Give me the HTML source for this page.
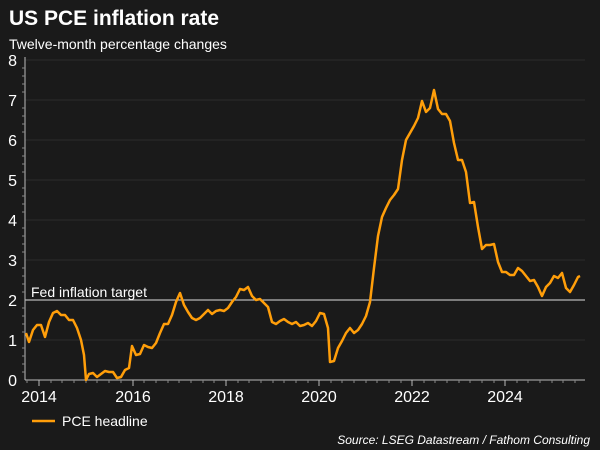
<!DOCTYPE html><html><head><style>body{margin:0;background:#1a1a1a}svg{display:block}</style></head><body>
<svg width="600" height="450" xmlns="http://www.w3.org/2000/svg" font-family="Liberation Sans, sans-serif">
<rect width="600" height="450" fill="#1a1a1a"/>
<text x="9" y="25" fill="#fff" font-size="21" font-weight="bold">US PCE inflation rate</text>
<text x="9" y="49" fill="#fff" font-size="14">Twelve-month percentage changes</text>
<g stroke="#2c2c2c" stroke-width="1">
<line x1="25" x2="585" y1="60" y2="60"/><line x1="25" x2="585" y1="100" y2="100"/><line x1="25" x2="585" y1="140" y2="140"/><line x1="25" x2="585" y1="180" y2="180"/><line x1="25" x2="585" y1="220" y2="220"/><line x1="25" x2="585" y1="260" y2="260"/><line x1="25" x2="585" y1="340" y2="340"/>
</g>
<line x1="25" x2="585" y1="300" y2="300" stroke="#ddd" stroke-width="1"/>
<line x1="25" x2="25" y1="57" y2="380" stroke="#bbb"/>
<line x1="25" x2="585" y1="380" y2="380" stroke="#bbb"/>
<g stroke="#888" stroke-width="1">
<path d="M25 68h-3M25 76h-3M25 84h-3M25 92h-3M25 108h-3M25 116h-3M25 124h-3M25 132h-3M25 148h-3M25 156h-3M25 164h-3M25 172h-3M25 188h-3M25 196h-3M25 204h-3M25 212h-3M25 228h-3M25 236h-3M25 244h-3M25 252h-3M25 268h-3M25 276h-3M25 284h-3M25 292h-3M25 308h-3M25 316h-3M25 324h-3M25 332h-3M25 348h-3M25 356h-3M25 364h-3M25 372h-3"/>
<path d="M27 380v3M51 380v3M62 380v3M74 380v3M86 380v3M97 380v3M109 380v3M121 380v3M144 380v3M156 380v3M168 380v3M179 380v3M191 380v3M203 380v3M214 380v3M238 380v3M249 380v3M261 380v3M273 380v3M284 380v3M296 380v3M308 380v3M331 380v3M342 380v3M354 380v3M366 380v3M377 380v3M389 380v3M401 380v3M424 380v3M435 380v3M447 380v3M459 380v3M470 380v3M482 380v3M494 380v3M517 380v3M528 380v3M540 380v3M552 380v3M563 380v3M575 380v3"/>
</g>
<g stroke="#bbb"><line x1="39" x2="39" y1="380" y2="386"/><line x1="133" x2="133" y1="380" y2="386"/><line x1="226" x2="226" y1="380" y2="386"/><line x1="319" x2="319" y1="380" y2="386"/><line x1="412" x2="412" y1="380" y2="386"/><line x1="505" x2="505" y1="380" y2="386"/></g>
<g fill="#fff" font-size="16" text-anchor="end"><text x="17" y="66">8</text><text x="17" y="106">7</text><text x="17" y="146">6</text><text x="17" y="186">5</text><text x="17" y="226">4</text><text x="17" y="266">3</text><text x="17" y="306">2</text><text x="17" y="346">1</text><text x="17" y="386">0</text></g>
<g fill="#fff" font-size="16" text-anchor="middle"><text x="39" y="402">2014</text><text x="133" y="402">2016</text><text x="226" y="402">2018</text><text x="319" y="402">2020</text><text x="412" y="402">2022</text><text x="505" y="402">2024</text></g>
<text x="31" y="297" fill="#fff" font-size="14">Fed inflation target</text>
<polyline fill="none" stroke="#ff9e0a" stroke-width="2.5" stroke-linejoin="round" points="26,333 29,342 33,330 37,325 41,325 45,337 49,322 53,313 57,311 61,315 65,315 69,320 73,320 77,328 81,340 84,355 86,380 89,374 93,373 97,377 101,374 105,371 109,372 113,372 117,378 121,377 125,370 129,368 132,346 136,355 140,354 144,345 148,347 152,348 156,343 160,333 164,324 168,324 172,315 176,302 180,293 184,305 188,312 192,318 196,320 200,318 204,314 208,310 212,314 216,311 220,310 224,311 228,308 232,302 236,297 240,289 244,290 248,287 252,296 256,300 260,299 264,303 268,307 272,322 276,324 280,321 284,319 288,322 292,324 296,322 300,326 304,325 308,323 312,326 316,321 320,313 324,314 328,328 330,362 334,361 338,348 342,341 346,333 350,328 354,333 358,330 362,324 366,316 370,302 374,268 378,236 382,217 386,208 390,200 394,195 398,189 402,160 406,140 410,133 414,126 418,118 422,101 426,112 430,108 434,90 438,109 442,114 446,114 450,121 454,143 458,160 462,160 466,172 470,203 474,202 478,227 482,249 486,245 490,245 494,244 498,262 502,272 506,272 510,275 514,275 518,268 522,271 526,276 530,281 534,280 538,287 542,296 546,287 550,283 554,276 558,278 562,273 566,288 570,292 574,285 578,277 580,276"/>
<line x1="32" x2="55" y1="421" y2="421" stroke="#ff9e0a" stroke-width="2.5"/>
<text x="62" y="426" fill="#fff" font-size="14">PCE headline</text>
<text x="590" y="444" fill="#fff" font-size="12" font-style="italic" text-anchor="end">Source: LSEG Datastream / Fathom Consulting</text>
</svg></body></html>
